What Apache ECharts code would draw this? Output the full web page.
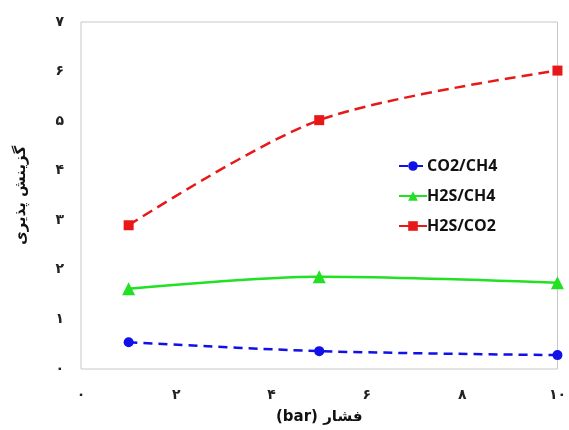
<!DOCTYPE html>
<html><head><meta charset="utf-8">
<script src="https://cdn.jsdelivr.net/npm/echarts@6/dist/echarts.min.js"></script>
<style>html,body{margin:0;padding:0;background:#fff}#c{width:569px;height:430px}</style>
</head><body><div id="c"></div>
<script>
const pressure = [1, 5, 10];
const co2ch4 = [0.54, 0.36, 0.28];
const h2sch4 = [1.62, 1.86, 1.74];
const h2sco2 = [2.9, 5.02, 6.02];
const seriesNames = ['CO2/CH4', 'H2S/CH4', 'H2S/CO2'];
const xTitle = '(bar) فشار';
const yTitle = 'گزینش پذیری';
const faDigits = ['۰','۱','۲','۳','۴','۵','۶','۷','۸','۹'];
const toFa = v => String(v).replace(/\d/g, d => faDigits[+d]);

const pairs = arr => pressure.map((x, i) => [x, arr[i]]);
const chart = echarts.init(document.getElementById('c'), null, {renderer: 'canvas'});
chart.setOption({
  animation: false,
  backgroundColor: '#fff',
  grid: {left: 81, top: 22, right: 10, bottom: 58, show: true, borderColor: '#c8c8c8', borderWidth: 1},
  xAxis: {
    type: 'value', min: 0, max: 10, interval: 2,
    axisLine: {show: false}, axisTick: {show: false}, splitLine: {show: false},
    axisLabel: {formatter: v => toFa(v), margin: 19, fontSize: 14, fontWeight: 'bold', color: '#222', fontFamily: 'DejaVu Sans'},
    name: xTitle, nameLocation: 'middle', nameGap: 41,
    nameTextStyle: {fontSize: 15, fontWeight: 'bold', color: '#111', fontFamily: 'DejaVu Sans'}
  },
  yAxis: {
    type: 'value', min: 0, max: 7, interval: 1,
    axisLine: {show: false}, axisTick: {show: false}, splitLine: {show: false},
    axisLabel: {formatter: v => toFa(v), margin: 17, fontSize: 14, fontWeight: 'bold', color: '#222', fontFamily: 'DejaVu Sans'},
    name: yTitle, nameLocation: 'middle', nameGap: 52, nameRotate: 90,
    nameTextStyle: {fontSize: 15, fontWeight: 'bold', color: '#111', fontFamily: 'DejaVu Sans'}
  },
  legend: {
    orient: 'vertical', left: 393, top: 153, itemGap: 14,
    itemWidth: 28, itemHeight: 12,
    textStyle: {fontSize: 16, fontWeight: 'bold', color: '#111', fontFamily: 'Open Sans', padding: [0,0,0,-5]},
    data: seriesNames
  },
  series: [
    {name: seriesNames[0], type: 'line', smooth: 0.3, data: pairs(co2ch4),
     symbol: 'circle', symbolSize: 10, color: '#1010e8',
     lineStyle: {width: 2.5, type: [9, 6], color: '#1010e8'}, itemStyle: {color: '#1010e8'}},
    {name: seriesNames[1], type: 'line', smooth: 0.3, data: pairs(h2sch4),
     symbol: 'triangle', symbolSize: 13, color: '#22e022',
     lineStyle: {width: 2.5, type: 'solid', color: '#22e022'}, itemStyle: {color: '#22e022'}},
    {name: seriesNames[2], type: 'line', smooth: 0.3, data: pairs(h2sco2),
     symbol: 'rect', symbolSize: 10, color: '#e81818',
     lineStyle: {width: 2.5, type: [11, 6], color: '#e81818'}, itemStyle: {color: '#e81818'}}
  ]
});
</script></body></html>
